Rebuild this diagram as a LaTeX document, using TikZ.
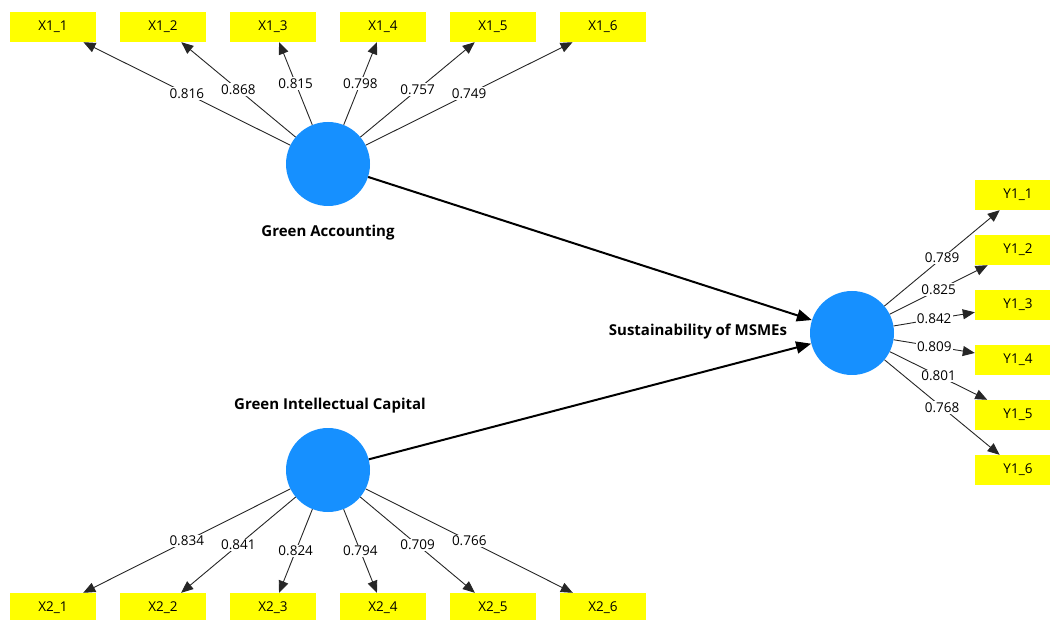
\documentclass[tikz,border=0pt]{standalone}
\usepackage{fontspec}
\setmainfont{Open Sans}
\usetikzlibrary{arrows.meta}

\definecolor{lvblue}{RGB}{22,144,255}
\definecolor{mvyellow}{RGB}{255,255,0}

\begin{document}
\begin{tikzpicture}[
    x=1pt, y=-1pt,
    lv/.style={circle,fill=lvblue,minimum size=84pt,inner sep=0pt},
    mv/.style={rectangle,fill=mvyellow,minimum width=86pt,minimum height=30pt,inner sep=0pt,font=\fontsize{13.5}{15}\selectfont},
    lvname/.style={font=\fontsize{15}{17}\selectfont\bfseries},
    load/.style={-{Triangle[length=12pt,width=10pt]},line width=0.9pt,black!85},
    struct/.style={-{Triangle[length=15pt,width=12pt]},line width=2pt,black},
    coef/.style={midway,fill=white,inner sep=1.2pt,text=black,font=\fontsize{13.5}{15}\selectfont},
]
\useasboundingbox (0,0) rectangle (1050,620);

% latent variables
\node[lv] (ga) at (328,164) {};
\node[lv] (gic) at (328,470) {};
\node[lv] (sus) at (852,333) {};

\node[lvname] (ganame) at (328,233) {Green Accounting};
\node[lvname] (gicname) at (330,406) {Green Intellectual Capital};
\node[lvname] (susname) at (698,332) {Sustainability of MSMEs};

% indicators of Green Accounting
\node[mv] (x11) at (53,27) {X1\_1};
\node[mv] (x12) at (163,27) {X1\_2};
\node[mv] (x13) at (273,27) {X1\_3};
\node[mv] (x14) at (383,27) {X1\_4};
\node[mv] (x15) at (493,27) {X1\_5};
\node[mv] (x16) at (603,27) {X1\_6};

% indicators of Green Intellectual Capital
\node[mv] (x21) at (53,608) {X2\_1};
\node[mv] (x22) at (163,608) {X2\_2};
\node[mv] (x23) at (273,608) {X2\_3};
\node[mv] (x24) at (383,608) {X2\_4};
\node[mv] (x25) at (493,608) {X2\_5};
\node[mv] (x26) at (603,608) {X2\_6};

% indicators of Sustainability of MSMEs
\node[mv] (y11) at (1018,195) {Y1\_1};
\node[mv] (y12) at (1018,250) {Y1\_2};
\node[mv] (y13) at (1018,305) {Y1\_3};
\node[mv] (y14) at (1018,360) {Y1\_4};
\node[mv] (y15) at (1018,415) {Y1\_5};
\node[mv] (y16) at (1018,470) {Y1\_6};

% outer loadings
\draw[load] (ga) -- (x11) node[coef] {0.816};
\draw[load] (ga) -- (x12) node[coef] {0.868};
\draw[load] (ga) -- (x13) node[coef] {0.815};
\draw[load] (ga) -- (x14) node[coef] {0.798};
\draw[load] (ga) -- (x15) node[coef] {0.757};
\draw[load] (ga) -- (x16) node[coef] {0.749};

\draw[load] (gic) -- (x21) node[coef] {0.834};
\draw[load] (gic) -- (x22) node[coef] {0.841};
\draw[load] (gic) -- (x23) node[coef] {0.824};
\draw[load] (gic) -- (x24) node[coef] {0.794};
\draw[load] (gic) -- (x25) node[coef] {0.709};
\draw[load] (gic) -- (x26) node[coef] {0.766};

\draw[load] (sus) -- (y11) node[coef] {0.789};
\draw[load] (sus) -- (y12) node[coef] {0.825};
\draw[load] (sus) -- (y13) node[coef] {0.842};
\draw[load] (sus) -- (y14) node[coef] {0.809};
\draw[load] (sus) -- (y15) node[coef] {0.801};
\draw[load] (sus) -- (y16) node[coef] {0.768};

% structural paths
\draw[struct] (ga) -- (sus);
\draw[struct] (gic) -- (sus);
\end{tikzpicture}
\end{document}
